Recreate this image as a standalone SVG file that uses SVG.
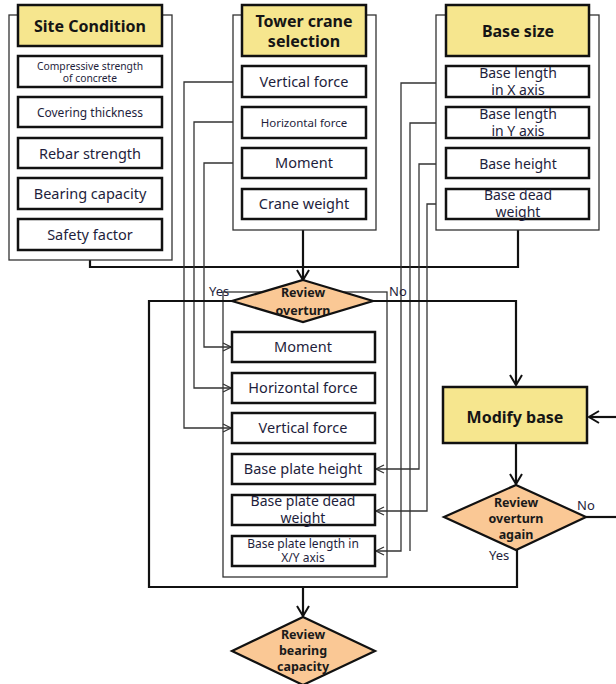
<svg xmlns="http://www.w3.org/2000/svg" width="616" height="684" viewBox="0 0 616 684">
  <defs>
    <style>
      .panel { fill: #fff; stroke: #333; stroke-width: 1.3; }
      .head { fill: #F6E68E; stroke: #111; stroke-width: 2.5; }
      .box { fill: #fff; stroke: #111; stroke-width: 2.5; }
      .dia { fill: #FAC895; stroke: #111; stroke-width: 2.2; }
      text { font-family: "Noto Sans", "Open Sans", sans-serif; fill: #1e1e3c; text-anchor: middle; }
      .ht { font-weight: bold; font-size: 16px; fill: #151515; }
      .dt { font-weight: bold; font-size: 12.5px; fill: #1a1a1a; }
      .lbl { font-size: 13px; text-anchor: start; }
      .thin { fill: none; stroke: #333; stroke-width: 1.3; }
      .thick { fill: none; stroke: #111; stroke-width: 2.2; }
    </style>
    <marker id="openThin" viewBox="0 0 10 10" refX="9" refY="5" markerWidth="10" markerHeight="10" markerUnits="userSpaceOnUse" orient="auto">
      <path d="M1,1 L9,5 L1,9" fill="none" stroke="#333" stroke-width="1.2"/>
    </marker>
    <marker id="openThick" viewBox="0 0 14 14" refX="12" refY="7" markerWidth="14" markerHeight="14" markerUnits="userSpaceOnUse" orient="auto">
      <path d="M2,1 L12,7 L2,13" fill="none" stroke="#111" stroke-width="2"/>
    </marker>
  </defs>

  <rect width="616" height="684" fill="#fff"/>

  <!-- inner review panel sits behind the decision diamond -->
  <rect class="panel" x="223" y="292" width="164" height="285"/>

  <!-- connectors -->
  <g id="connectors">
    <!-- inputs gathered into the overturn review -->
    <path class="thick" d="M90,260 V267 H518 V230"/>
    <path class="thick" d="M303,230 V280" marker-end="url(#openThick)"/>
    <!-- tower crane loads to review items -->
    <path class="thin" d="M242,82 H184 V428 H231" marker-end="url(#openThin)"/>
    <path class="thin" d="M242,122 H194 V388 H231" marker-end="url(#openThin)"/>
    <path class="thin" d="M242,163 H204 V347 H231" marker-end="url(#openThin)"/>
    <!-- base size values to review items -->
    <path class="thin" d="M446,83 H401 V551 H376" marker-end="url(#openThin)"/>
    <path class="thin" d="M446,123 H410 V551"/>
    <path class="thin" d="M446,164 H419 V469 H376" marker-end="url(#openThin)"/>
    <path class="thin" d="M446,204 H427 V511 H376" marker-end="url(#openThin)"/>
    <!-- No branch to modify base -->
    <path class="thick" d="M373,301 H516 V385" marker-end="url(#openThick)"/>
    <!-- loop back from second review -->
    <path class="thick" d="M616,417 H589" marker-end="url(#openThick)"/>
    <path class="thick" d="M516,443 V484" marker-end="url(#openThick)"/>
    <path class="thick" d="M586,517 H616"/>
    <!-- Yes branches joining toward bearing review -->
    <path class="thick" d="M232,301 H149 V587 H517 V550"/>
    <path class="thick" d="M303,587 V616" marker-end="url(#openThick)"/>
  </g>

  <!-- Site Condition -->
  <g id="site-condition">
    <rect class="panel" x="9" y="15" width="163" height="245"/>
    <rect class="head" x="18" y="5" width="144" height="41"/>
    <text class="ht" x="90" y="32" font-size="15.5">Site Condition</text>
    <rect class="box" x="18" y="56" width="144" height="31"/>
    <text x="90" y="70" font-size="10.3">Compressive strength</text>
    <text x="90" y="82" font-size="10.3">of concrete</text>
    <rect class="box" x="18" y="97" width="144" height="30"/>
    <text x="90" y="117" font-size="12">Covering  thickness</text>
    <rect class="box" x="18" y="138" width="144" height="30"/>
    <text x="90" y="159" font-size="14.5">Rebar strength</text>
    <rect class="box" x="18" y="178" width="144" height="31"/>
    <text x="90" y="199" font-size="14.5">Bearing capacity</text>
    <rect class="box" x="18" y="219" width="144" height="31"/>
    <text x="90" y="240" font-size="14.5">Safety factor</text>
  </g>

  <!-- Tower crane selection -->
  <g id="tower-crane">
    <rect class="panel" x="233" y="15" width="143" height="215"/>
    <rect class="head" x="242" y="5" width="124" height="51"/>
    <text class="ht" x="304" y="27" font-size="15">Tower crane</text>
    <text class="ht" x="304" y="47" font-size="15">selection</text>
    <rect class="box" x="242" y="66" width="124" height="31"/>
    <text x="304" y="87" font-size="14.5">Vertical force</text>
    <rect class="box" x="242" y="107" width="124" height="31"/>
    <text x="304" y="127" font-size="11.5">Horizontal  force</text>
    <rect class="box" x="242" y="148" width="124" height="30"/>
    <text x="304" y="168" font-size="14.5">Moment</text>
    <rect class="box" x="242" y="189" width="124" height="30"/>
    <text x="304" y="209" font-size="14.5">Crane weight</text>
  </g>

  <!-- Base size -->
  <g id="base-size">
    <rect class="panel" x="436" y="15" width="163" height="215"/>
    <rect class="head" x="446" y="5" width="143" height="51"/>
    <text class="ht" x="518" y="37">Base size</text>
    <rect class="box" x="446" y="66" width="143" height="31"/>
    <text x="518" y="78" font-size="14">Base length</text>
    <text x="518" y="95" font-size="14">in X axis</text>
    <rect class="box" x="446" y="107" width="143" height="31"/>
    <text x="518" y="119" font-size="14">Base length</text>
    <text x="518" y="136" font-size="14">in Y axis</text>
    <rect class="box" x="446" y="148" width="143" height="30"/>
    <text x="518" y="169" font-size="14">Base height</text>
    <rect class="box" x="446" y="189" width="143" height="30"/>
    <text x="518" y="200" font-size="14">Base dead</text>
    <text x="518" y="217" font-size="14">weight</text>
  </g>

  <!-- Review overturn -->
  <g id="review-overturn">
    <polygon class="dia" points="303,280 373,301 303,322 232,301"/>
    <text class="dt" x="303" y="297" font-size="14">Review</text>
    <text class="dt" x="303" y="315" font-size="14">overturn</text>
    <text class="lbl" x="209" y="296" fill="#3d5a9a">Yes</text>
    <text class="lbl" x="389" y="296" fill="#4a2a7a">No</text>
  </g>

  <!-- review items -->
  <g id="item-moment">
    <rect class="box" x="232" y="332" width="143" height="30"/>
    <text x="303" y="352" font-size="14.5">Moment</text>
  </g>
  <g id="item-horizontal">
    <rect class="box" x="232" y="373" width="143" height="30"/>
    <text x="303" y="393" font-size="14.5">Horizontal force</text>
  </g>
  <g id="item-vertical">
    <rect class="box" x="232" y="413" width="143" height="30"/>
    <text x="303" y="433" font-size="14.5">Vertical force</text>
  </g>
  <g id="item-plate-height">
    <rect class="box" x="232" y="454" width="143" height="30"/>
    <text x="303" y="474" font-size="14.5">Base plate height</text>
  </g>
  <g id="item-plate-weight">
    <rect class="box" x="232" y="495" width="143" height="30"/>
    <text x="303" y="506" font-size="14">Base plate dead</text>
    <text x="303" y="523" font-size="14">weight</text>
  </g>
  <g id="item-plate-length">
    <rect class="box" x="232" y="536" width="143" height="30"/>
    <text x="303" y="548" font-size="12">Base plate  length  in</text>
    <text x="303" y="562" font-size="12">X/Y axis</text>
  </g>

  <!-- Modify base -->
  <g id="modify-base">
    <rect class="head" x="443" y="387" width="144" height="56"/>
    <text class="ht" x="515" y="423" font-size="17">Modify base</text>
  </g>

  <!-- Review overturn again -->
  <g id="review-again">
    <polygon class="dia" points="516,485 586,517 516,550 444,517"/>
    <text class="dt" x="516" y="507" font-size="12">Review</text>
    <text class="dt" x="516" y="523" font-size="12">overturn</text>
    <text class="dt" x="516" y="539" font-size="12">again</text>
    <text class="lbl" x="577" y="510" fill="#4a2a7a">No</text>
    <text class="lbl" x="489" y="560" fill="#3d5a9a">Yes</text>
  </g>

  <!-- Review bearing capacity -->
  <g id="review-bearing">
    <polygon class="dia" points="303,617 375,651 303,685 232,651"/>
    <text class="dt" x="303" y="639">Review</text>
    <text class="dt" x="303" y="655">bearing</text>
    <text class="dt" x="303" y="671">capacity</text>
  </g>
</svg>
